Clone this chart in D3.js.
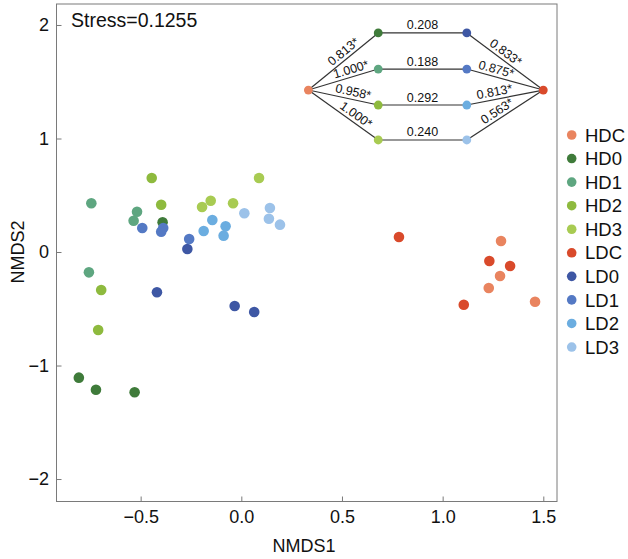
<!DOCTYPE html>
<html><head><meta charset="utf-8">
<script src="https://cdn.jsdelivr.net/npm/d3@7/dist/d3.min.js"></script>
<style>
body{margin:0;background:#fff;}
text{font-family:"Liberation Sans",Arial,sans-serif;fill:#111;}
</style></head>
<body><svg id="c" width="628" height="559"></svg>
<script>
// ---- data ----
const groups = ["HDC","HD0","HD1","HD2","HD3","LDC","LD0","LD1","LD2","LD3"];
const colors = ["#E9845F","#3F7B3A","#5EA680","#8EBA3E","#A8CB52","#D94A2B","#3E57A4","#5479C4","#6BADE0","#9CC2E9"];
const HDC = [[1.290,0.097],[1.285,-0.211],[1.229,-0.317],[1.459,-0.438]];
const HD0 = [[-0.807,-1.107],[-0.722,-1.213],[-0.530,-1.236],[-0.391,0.262]];
const HD1 = [[-0.745,0.429],[-0.518,0.355],[-0.535,0.276],[-0.757,-0.179]];
const HD2 = [[-0.445,0.652],[-0.398,0.417],[-0.696,-0.335],[-0.711,-0.687]];
const HD3 = [[-0.195,0.396],[-0.152,0.452],[-0.041,0.429],[0.088,0.652]];
const LDC = [[0.783,0.132],[1.232,-0.079],[1.335,-0.123],[1.105,-0.464]];
const LD0 = [[-0.268,0.026],[-0.419,-0.355],[-0.033,-0.476],[0.064,-0.529]];
const LD1 = [[-0.492,0.211],[-0.388,0.211],[-0.398,0.179],[-0.259,0.115]];
const LD2 = [[-0.144,0.282],[-0.187,0.185],[-0.078,0.226],[-0.088,0.144]];
const LD3 = [[0.015,0.341],[0.142,0.388],[0.137,0.293],[0.192,0.241]];
const seriesValues = [HDC,HD0,HD1,HD2,HD3,LDC,LD0,LD1,LD2,LD3];
const xTicks = [-0.5,0,0.5,1,1.5];
const yTicks = [-2,-1,0,1,2];
const stressLabel = "Stress=0.1255";

// inset network
const netRowsHD = ["HD0","HD1","HD2","HD3"];
const netRowsLD = ["LD0","LD1","LD2","LD3"];
const midLabels = ["0.208","0.188","0.292","0.240"];
const leftLabels = ["0.813*","1.000*","0.958*","1.000*"];
const rightLabels = ["0.833*","0.875*","0.813*","0.563*"];

// ---- layout (positions in data space of the plot) ----
const netX = {HDC:0.333, HD:0.680, LD:1.120, LDC:1.500};
const netY = {center:1.427, rows:[1.93,1.612,1.295,0.987]};
const leftT = [0.57,0.64,0.62,0.62];
const rightT = [0.45,0.36,0.38,0.45];

const svg = d3.select("#c");
const x = d3.scaleLinear().domain([-0.918,1.568]).range([56.5,557]);
const y = d3.scaleLinear().domain([-2.198,2.185]).range([501.5,4]);
const col = d3.scaleOrdinal().domain(groups).range(colors);

// frame
svg.append("rect").attr("x",56.5).attr("y",4).attr("width",500.5).attr("height",497.5)
  .attr("fill","none").attr("stroke","#7a7a7a").attr("stroke-width",1);

const ax = svg.append("g").attr("transform","translate(0,501.5)")
  .call(d3.axisBottom(x).tickValues(xTicks).tickFormat(d3.format(".1f")).tickSize(-5).tickPadding(9));
const ay = svg.append("g").attr("transform","translate(56.5,0)")
  .call(d3.axisLeft(y).tickValues(yTicks).tickFormat(d3.format("d")).tickSize(-5).tickPadding(7.5));
[ax,ay].forEach(g=>{
  g.select(".domain").remove();
  g.selectAll(".tick line").attr("stroke","#7a7a7a");
  g.selectAll(".tick text").style("font-size","18px").attr("fill","#111");
});

svg.append("text").attr("x",304).attr("y",552).attr("text-anchor","middle").style("font-size","18px").text("NMDS1");
svg.append("text").attr("transform","translate(24,252) rotate(-90)").attr("text-anchor","middle").style("font-size","18px").text("NMDS2");
svg.append("text").attr("x",71).attr("y",27).style("font-size","19.5px").text(stressLabel);

// points
const pts = [];
groups.forEach((g,i)=>seriesValues[i].forEach(v=>pts.push({g,x:v[0],y:v[1]})));
svg.append("g").selectAll("circle").data(pts).join("circle")
  .attr("cx",d=>x(d.x)).attr("cy",d=>y(d.y)).attr("r",5.3).attr("fill",d=>col(d.g));

// legend
const lg = svg.append("g");
groups.forEach((g,i)=>{
  const yy = 135 + i*23.56;
  lg.append("circle").attr("cx",571.7).attr("cy",yy).attr("r",4.8).attr("fill",col(g));
  lg.append("text").attr("x",585).attr("y",yy).attr("dy","0.36em").style("font-size","18.5px").text(g);
});

// inset network
const net = svg.append("g");
const pHDC = [x(netX.HDC), y(netY.center)];
const pLDC = [x(netX.LDC), y(netY.center)];
function angLabel(p0,p1,t,txt){
  const px = p0[0]+(p1[0]-p0[0])*t, py = p0[1]+(p1[1]-p0[1])*t;
  const a = Math.atan2(p1[1]-p0[1], p1[0]-p0[0])*180/Math.PI;
  net.append("text").attr("transform",`translate(${px},${py}) rotate(${a})`)
    .attr("text-anchor","middle").attr("dy",-3.5).style("font-size","12.5px").text(txt);
}
netRowsHD.forEach((h,i)=>{
  const pH = [x(netX.HD), y(netY.rows[i])];
  const pL = [x(netX.LD), y(netY.rows[i])];
  [[pHDC,pH],[pH,pL],[pL,pLDC]].forEach(s=>{
    net.append("line").attr("x1",s[0][0]).attr("y1",s[0][1]).attr("x2",s[1][0]).attr("y2",s[1][1])
      .attr("stroke","#333").attr("stroke-width",1.2);
  });
  net.append("text").attr("x",(pH[0]+pL[0])/2).attr("y",pH[1]).attr("dy",-3.5)
    .attr("text-anchor","middle").style("font-size","12.5px").text(midLabels[i]);
  angLabel(pHDC,pH,leftT[i],leftLabels[i]);
  angLabel(pL,pLDC,rightT[i],rightLabels[i]);
});
netRowsHD.forEach((h,i)=>{
  net.append("circle").attr("cx",x(netX.HD)).attr("cy",y(netY.rows[i])).attr("r",4.4).attr("fill",col(h));
  net.append("circle").attr("cx",x(netX.LD)).attr("cy",y(netY.rows[i])).attr("r",4.4).attr("fill",col(netRowsLD[i]));
});
net.append("circle").attr("cx",pHDC[0]).attr("cy",pHDC[1]).attr("r",4.4).attr("fill",col("HDC"));
net.append("circle").attr("cx",pLDC[0]).attr("cy",pLDC[1]).attr("r",4.4).attr("fill",col("LDC"));
</script></body></html>
